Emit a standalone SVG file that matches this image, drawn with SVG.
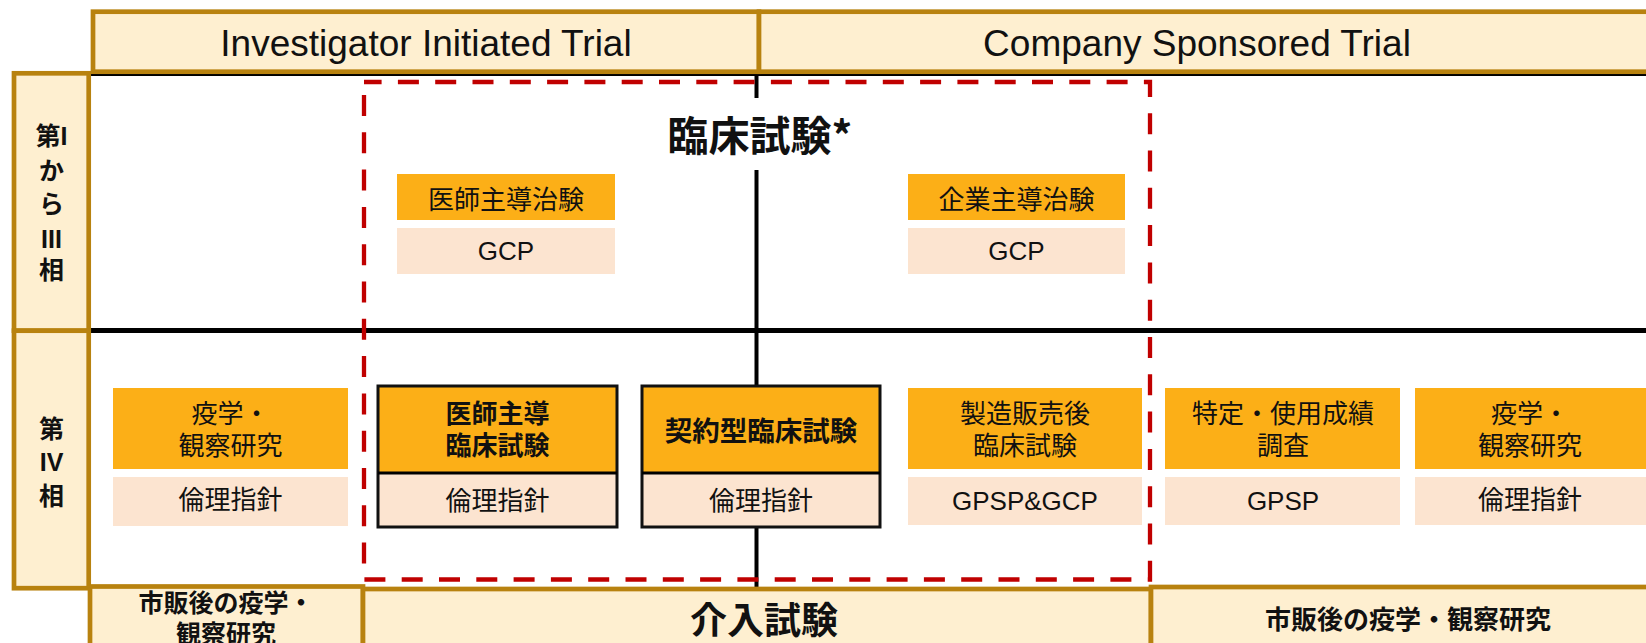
<svg xmlns="http://www.w3.org/2000/svg" width="1646" height="643" viewBox="0 0 1646 643">
<style>
.cell{fill:#FEEFD0;stroke:#B8820F;stroke-width:4.7}
.org{fill:#FCAF17}
.pch{fill:#FCE4D0}
.bx{fill:none;stroke:#111;stroke-width:3}
.ln{stroke:#000;fill:none}
.t{font-family:"Liberation Sans","Noto Sans CJK JP",sans-serif;fill:#111;text-anchor:middle}
.j{font-family:"Noto Sans CJK JP","Liberation Sans",sans-serif;fill:#111;text-anchor:middle}
.b{font-weight:bold}
.s26{font-size:26px}
</style>
<rect width="1646" height="643" fill="#fff"/>
<g id="connectors">
<line class="ln" x1="91" y1="75" x2="1646" y2="75" stroke-width="2"/>
<line class="ln" x1="89" y1="330.5" x2="1646" y2="330.5" stroke-width="5"/>
<line class="ln" x1="756.5" y1="74" x2="756.5" y2="98" stroke-width="4"/>
<line class="ln" x1="756.5" y1="170" x2="756.5" y2="587" stroke-width="4"/>
</g>
<g id="clinical-trial-frame">
<path d="M364,82 H1150 V579.5 H364 Z" fill="none" stroke="#C00000" stroke-width="4.3" stroke-dasharray="21 16.3" stroke-dashoffset="3.4"/>
<text class="j b" x="760" y="151" font-size="41">臨床試験*</text>
</g>
<g id="header-iit">
<rect class="cell" x="93" y="11.7" width="666" height="60"/>
<text class="t" x="426" y="55.5" font-size="37">Investigator Initiated Trial</text>
</g>
<g id="header-cst">
<rect class="cell" x="759" y="11.7" width="950" height="60"/>
<text class="t" x="1197" y="55.5" font-size="37">Company Sponsored Trial</text>
</g>
<g id="phase-1-3">
<rect class="cell" x="14" y="73.3" width="74.7" height="257.4"/>
<text class="t b" font-size="25" x="51.5"><tspan x="51.5" y="144.5">第I</tspan><tspan x="51.5" y="179.5">か</tspan><tspan x="51.5" y="213">ら</tspan><tspan x="51.5" y="247.5">III</tspan><tspan x="51.5" y="279">相</tspan></text>
</g>
<g id="phase-4">
<rect class="cell" x="14" y="330.7" width="74.7" height="257.5"/>
<text class="t b" font-size="25" x="51.5"><tspan x="51.5" y="437.5">第</tspan><tspan x="51.5" y="470.5">IV</tspan><tspan x="51.5" y="504.5">相</tspan></text>
</g>
<g id="iit-trial">
<rect class="org" x="397" y="174" width="218" height="46"/>
<text class="j s26" x="506" y="209">医師主導治験</text>
<rect class="pch" x="397" y="228" width="218" height="46"/>
<text class="t s26" x="506" y="259.5">GCP</text>
</g>
<g id="cst-trial">
<rect class="org" x="908" y="174" width="217" height="46"/>
<text class="j s26" x="1016.5" y="209">企業主導治験</text>
<rect class="pch" x="908" y="228" width="217" height="46"/>
<text class="t s26" x="1016.5" y="259.5">GCP</text>
</g>
<g id="epi-left">
<rect class="org" x="113" y="388" width="235" height="81"/>
<text class="j s26" x="230.5" y="423">疫学・</text>
<text class="j s26" x="230.5" y="455">観察研究</text>
<rect class="pch" x="113" y="477" width="235" height="49"/>
<text class="j s26" x="230.5" y="509">倫理指針</text>
</g>
<g id="iit-clinical">
<rect class="org" x="378" y="386" width="239" height="87"/>
<rect class="pch" x="378" y="473" width="239" height="54"/>
<rect class="bx" x="378" y="386" width="239" height="141"/>
<line class="ln" x1="378" y1="473" x2="617" y2="473" stroke-width="3"/>
<text class="j b s26" x="497.5" y="423">医師主導</text>
<text class="j b s26" x="497.5" y="455">臨床試験</text>
<text class="j s26" x="497.5" y="509.5">倫理指針</text>
</g>
<g id="contract-clinical">
<rect class="org" x="642" y="386" width="238" height="87"/>
<rect class="pch" x="642" y="473" width="238" height="54"/>
<rect class="bx" x="642" y="386" width="238" height="141"/>
<line class="ln" x1="642" y1="473" x2="880" y2="473" stroke-width="3"/>
<text class="j b" font-size="27.5" x="761" y="441">契約型臨床試験</text>
<text class="j s26" x="761" y="509.5">倫理指針</text>
</g>
<g id="post-marketing-clinical">
<rect class="org" x="908" y="388" width="234" height="81"/>
<text class="j s26" x="1025" y="423">製造販売後</text>
<text class="j s26" x="1025" y="455">臨床試験</text>
<rect class="pch" x="908" y="477" width="234" height="48"/>
<text class="t s26" x="1025" y="510">GPSP&amp;GCP</text>
</g>
<g id="specified-use-survey">
<rect class="org" x="1165" y="388" width="235" height="81"/>
<text class="j s26" x="1283" y="423">特定・使用成績</text>
<text class="j s26" x="1283" y="455">調査</text>
<rect class="pch" x="1165" y="477" width="235" height="48"/>
<text class="t s26" x="1283" y="510">GPSP</text>
</g>
<g id="epi-right">
<rect class="org" x="1415" y="388" width="240" height="81"/>
<text class="j s26" x="1530" y="423">疫学・</text>
<text class="j s26" x="1530" y="455">観察研究</text>
<rect class="pch" x="1415" y="477" width="240" height="48"/>
<text class="j s26" x="1530" y="509">倫理指針</text>
</g>
<g id="bottom-left">
<rect class="cell" x="90" y="586.5" width="273" height="80"/>
<text class="j b" font-size="25" x="226" y="611.5">市販後の疫学・</text>
<text class="j b" font-size="25" x="226" y="642.5">観察研究</text>
</g>
<g id="bottom-intervention">
<rect class="cell" x="363" y="589" width="788" height="80"/>
<text class="j b" font-size="37" x="764" y="634">介入試験</text>
</g>
<g id="bottom-right">
<rect class="cell" x="1151" y="587" width="600" height="80"/>
<text class="j b s26" x="1408" y="628.5">市販後の疫学・観察研究</text>
</g>
</svg>
